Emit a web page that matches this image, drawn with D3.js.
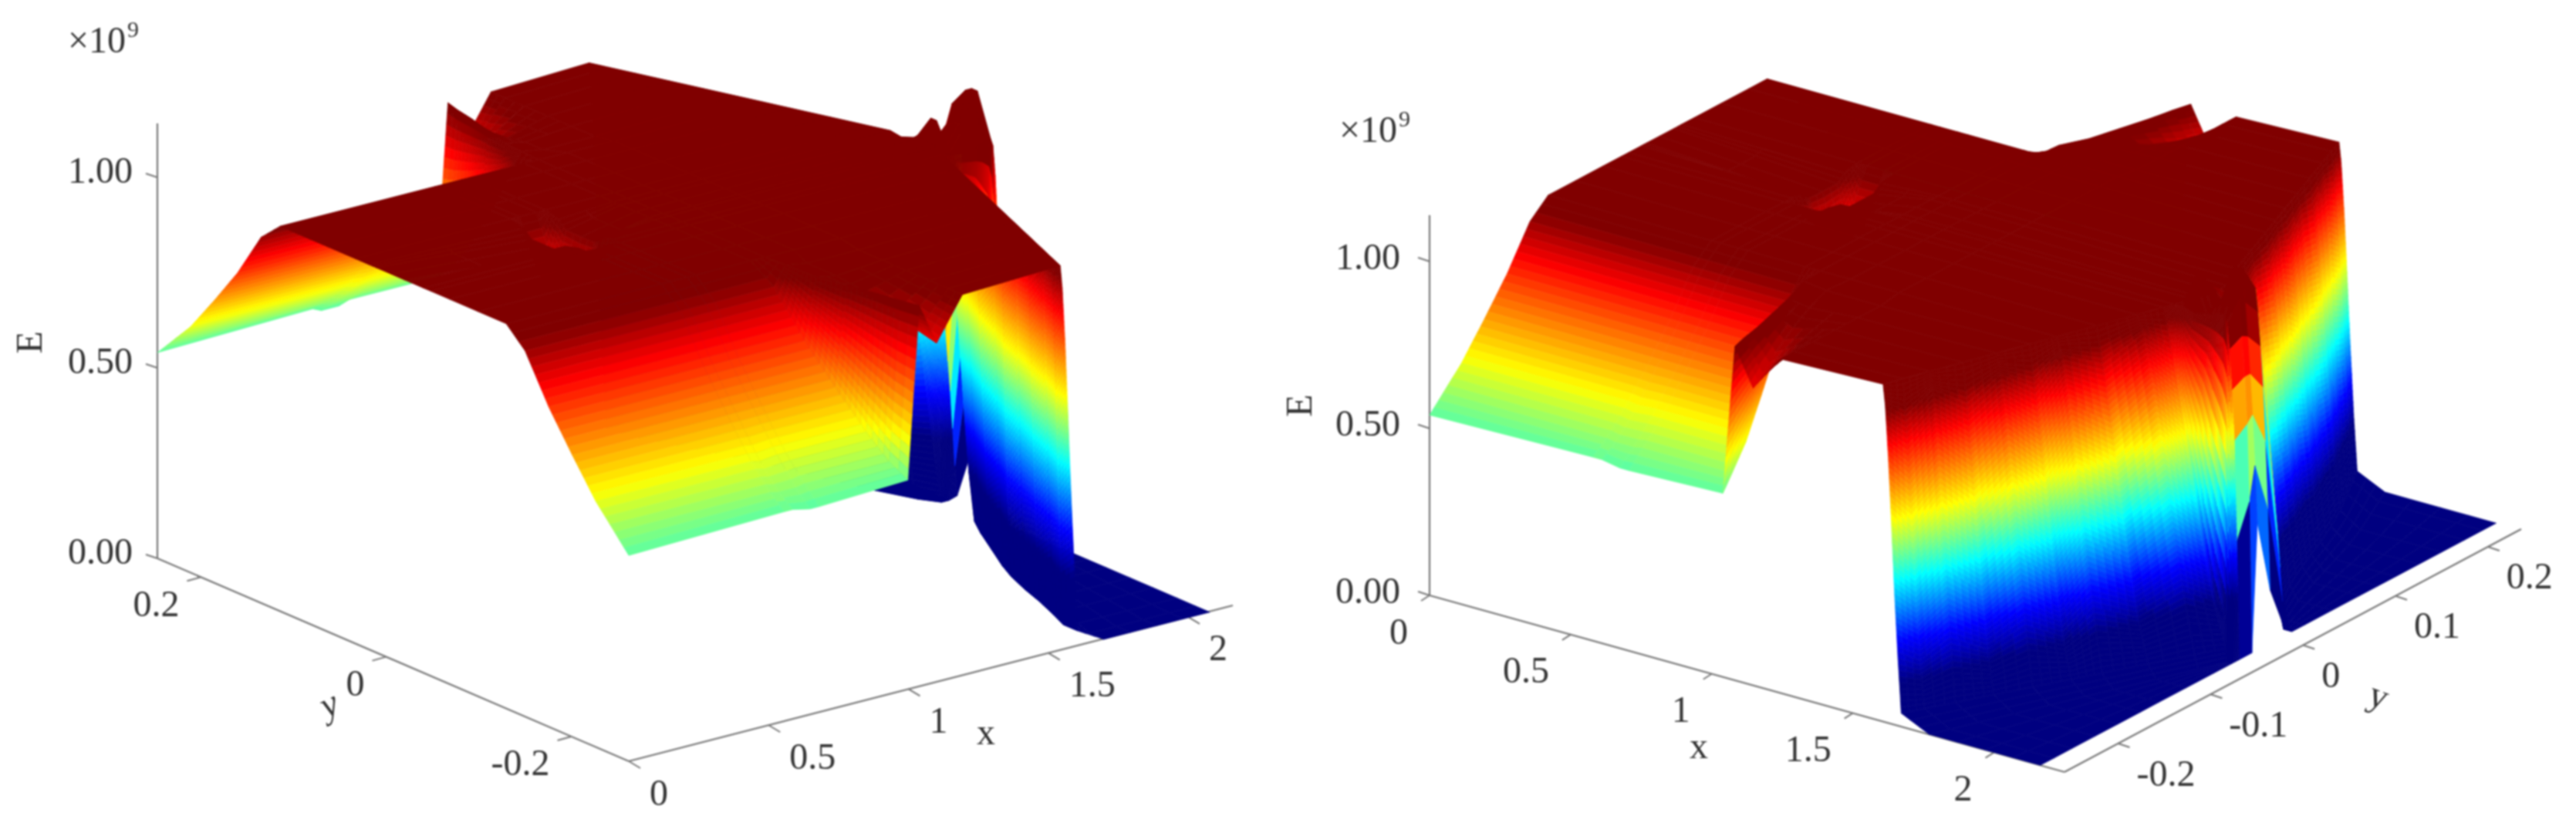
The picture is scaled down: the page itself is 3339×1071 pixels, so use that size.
<!DOCTYPE html>
<html>
<head>
<meta charset="UTF-8">
<title>E surface</title>
<script src="https://d3js.org/d3.v7.min.js"></script>
<style>
  html, body { margin: 0; background: #fff; }
  svg { display: block; filter: blur(.8px); }
  text { font-family: "Liberation Serif", serif; fill: #333; }
</style>
</head>
<body>
<svg width="3339" height="1071"></svg>
<script>
// y rows of the surface mesh
const yRows = [-.25,-.235,-.215,-.19,-.165,-.14,-.12,-.09,-.06,-.04,-.032,-.018,-.012,.002,.018,.026,.04,.07,.1,.12,.14,.165,.19,.215,.235,.25];

// x nodes, first block (x=0 side, includes the small dent on the plateau)
const xFront = [0,.54,.57,.63,.66];
const eFront = [
  [.54,.55,.55,.54,.54],[.585,.585,.58,.58,.585],[.645,.645,.64,.645,.645],[.74,.74,.74,.74,.74],
  [.84,.84,.84,.84,.84],[.96,.96,.96,.96,.96],[1.01,1.01,1.01,1.01,1.01],[1.01,1.01,1.01,1.01,1.01],
  [1.01,1.01,1.01,1.01,1.01],[1.01,1.01,1.01,1.01,1.01],[1.01,1.01,.97,.97,1.01],[1.01,1,.92,.92,1],
  [1.01,.98,.88,.88,.98],[1.01,.98,.86,.86,.98],[1.01,.98,.88,.88,.98],[1.01,1,.92,.92,1],
  [1.01,1.01,1.01,1.01,1.01],[1.01,1.01,1.01,1.01,1.01],[1.01,1.01,1.01,1.01,1.01],[1.01,1.01,1.01,1.01,1.01],
  [.96,.96,.96,.96,.96],[.84,.84,.84,.84,.84],[.74,.74,.74,.74,.74],[.645,.645,.64,.645,.645],
  [.585,.585,.58,.58,.585],[.54,.55,.54,.54,.55]
];

// x nodes around the step near x=1
const xNotch = [
  [.97,1.01,1.07,1.16],[.955,.995,1.055,1.16],[.94,.98,1.04,1.16],[.915,.955,1.02,1.16],
  [.89,.93,1,1.16],[.865,.905,.98,1.16],[.85,.9,1,1.16],[.85,.9,1,1.16],
  [.85,.9,1,1.16],[.85,.9,1,1.16],[.85,.9,1,1.16],[.85,.9,1,1.16],
  [.85,.9,1,1.16],[.85,.9,1,1.16],[.85,.9,1,1.16],[.85,.9,1,1.16],
  [.85,.9,1,1.16],[.85,.9,1,1.16],[.85,.9,1,1.16],[.85,.9,1,1.16],
  [.865,.905,.98,1.16],[.89,.93,1,1.16],[.915,.955,1.02,1.16],[.94,.98,1.04,1.16],
  [.955,.995,1.055,1.16],[.97,1.01,1.07,1.16]
];
const eNotch = [
  [.55,1,.89,1],[.585,1,.91,1],[.645,1,.94,1],[.74,1,.97,1],
  [.84,1,.99,1],[.96,1.01,1,1],[1.01,1.01,1.01,1.01],[1.01,1.01,1.01,1.01],
  [1.01,1.01,1.01,1.01],[1.01,1.01,1.01,1.01],[1.01,1.01,1.01,1.01],[1.01,1.01,1.01,1.01],
  [1.01,1.01,1.01,1.01],[1.01,1.01,1.01,1.01],[1.01,1.01,1.01,1.01],[1.01,1.01,1.01,1.01],
  [1.01,1.01,1.01,1.01],[1.01,1.01,1.01,1.01],[1.01,1.01,1.01,1.01],[1.01,1.01,1.01,1.01],
  [.96,1.01,1,1],[.84,1,.99,1],[.74,1,.97,1],[.645,1,.94,1],
  [.585,1,.91,1],[.55,1,.89,1]
];

// x nodes down the wall on the far x side, last value is the end of the mesh
// rows 10-14 are the narrow ridge and carry 12 nodes
const tipNodes = [1.83,1.87,1.93,1.95,1.972,1.98,1.988,1.996,2.004,2.012,2.02];
const xWallRight = [
  [1.5,1.507,1.517,1.527,1.537,1.548,1.56,2.02],
  [1.521,1.529,1.541,1.553,1.564,1.577,1.591,2.02],
  [1.549,1.559,1.573,1.587,1.601,1.616,1.633,2.02],
  [1.584,1.596,1.612,1.629,1.647,1.665,1.685,2.02],
  [1.619,1.633,1.652,1.673,1.693,1.714,1.738,2.02],
  [1.654,1.67,1.692,1.715,1.738,1.763,1.79,2.02],
  [1.682,1.7,1.724,1.75,1.775,1.802,1.832,2.02],
  [1.724,1.744,1.772,1.801,1.829,1.86,1.894,2.02],
  [1.766,1.789,1.819,1.852,1.884,1.919,1.957,2.02],
  [1.794,1.819,1.851,1.886,1.921,1.958,1.999,2.02],
  [1.805].concat(tipNodes),
  [1.825].concat(tipNodes),
  [1.833].concat(tipNodes),
  [1.847].concat(tipNodes),
  [1.825].concat(tipNodes),
  [1.814,1.835,1.865,1.895,1.925,1.955,1.985,2.02],
  [1.794,1.812,1.835,1.86,1.885,1.911,1.94,2.02],
  [1.752,1.767,1.788,1.81,1.831,1.854,1.88,2.02],
  [1.71,1.724,1.744,1.764,1.784,1.806,1.83,2.02],
  [1.682,1.696,1.715,1.735,1.755,1.776,1.8,2.02],
  [1.654,1.668,1.686,1.706,1.726,1.747,1.77,2.02],
  [1.619,1.632,1.65,1.669,1.688,1.708,1.73,2.02],
  [1.584,1.596,1.612,1.629,1.647,1.665,1.685,2.02],
  [1.549,1.559,1.573,1.587,1.601,1.616,1.633,2.02],
  [1.521,1.529,1.541,1.553,1.564,1.577,1.591,2.02],
  [1.5,1.507,1.517,1.527,1.537,1.548,1.56,2.02]
];
// the left plot has the foot of the wall further in on its near side
const xWallLeft = [
  [1.5,1.507,1.517,1.527,1.537,1.548,1.56,2.02],
  [1.521,1.526,1.532,1.539,1.545,1.552,1.56,2.02],
  [1.549,1.554,1.56,1.567,1.574,1.582,1.59,2.02],
  [1.584,1.589,1.595,1.602,1.609,1.617,1.625,2.02],
  [1.619,1.624,1.629,1.635,1.641,1.648,1.655,2.02],
  [1.654,1.658,1.664,1.67,1.676,1.683,1.69,2.02],
  [1.682,1.687,1.694,1.701,1.709,1.716,1.725,2.02],
  [1.724,1.731,1.741,1.751,1.762,1.773,1.785,2.02],
  [1.766,1.775,1.788,1.802,1.815,1.829,1.845,2.02],
  [1.794,1.806,1.821,1.837,1.854,1.871,1.89,2.02]
].concat(xWallRight.slice(10));

const eWall = [
  [1.01,.95,.8,.61,.41,.22,.04,0],
  [1.01,.9,.73,.54,.35,.18,.04,0],
  [1.01,.96,.82,.63,.43,.23,.04,0],
  [1.01,.89,.72,.53,.34,.17,.04,0],
  [1.01,.95,.81,.62,.42,.22,.04,0],
  [1.01,.88,.71,.52,.33,.16,.04,0],
  [1.01,.96,.82,.63,.43,.23,.04,0],
  [1.01,.9,.73,.53,.34,.17,.04,0],
  [1.01,.96,.82,.62,.42,.22,.04,0],
  [1.01,.89,.72,.53,.34,.17,.04,0],
  [1.01,1.01,1,1.01,1.02,1.02,1,.92,.8,.65,.35,0],
  [1.01,1.08,.98,1.05,1.13,1.13,1.05,.94,.82,.68,.45,0],
  [1.01,1.08,.98,1.05,1.13,1.13,1.03,.93,.82,.7,.55,.38],
  [1.01,1.02,.98,1.03,1.08,1.05,.98,.88,.76,.6,.4,.16],
  [1,.98,.9,.75,.62,.52,.46,.38,.3,.2,.1,.02],
  [1.01,.94,.78,.6,.4,.2,.03,0],
  [1.01,.92,.77,.58,.39,.2,.04,0],
  [1.01,.95,.8,.61,.41,.21,.04,0],
  [1.01,.92,.76,.57,.38,.19,.04,0],
  [1.01,.95,.81,.61,.41,.21,.04,0],
  [1.01,.92,.76,.56,.38,.19,.04,0],
  [1.01,.95,.8,.61,.41,.21,.04,0],
  [1.01,.92,.77,.57,.38,.19,.04,0],
  [1.01,.95,.81,.61,.41,.21,.04,0],
  [1.01,.92,.76,.57,.38,.19,.04,0],
  [1.01,.95,.8,.61,.41,.21,.04,0]
];
// colour offset on the wall per row, right plot (bands sit lower near y=-0.25)
const wallShadeRight = [.05,.05,.05,.04,.04,.03,.03,.02,.01,.01,0,0,0,0,0,0,0,0,0,0,0,0,0,0,0,0];
const wallShadeLeft = yRows.map(() => 0);

// tick labels
const xTicks = [0,.5,1,1.5,2];
const xTickLabels = ["0","0.5","1","1.5","2"];
const yTicksLeft = [-.2,0,.2];
const yTicksLeftLabels = ["-0.2","0","0.2"];
const yTicksRight = [-.2,-.1,0,.1,.2];
const yTicksRightLabels = ["-0.2","-0.1","0","0.1","0.2"];
const zTicks = [0,.5,1];
const zTickLabels = ["0.00","0.50","1.00"];

// ridge rows are drawn with flat cells, from this column on
const ridgeRows = [10,11,12,13];
const wallStart = xFront.length + 4;

// short rows get extra floor nodes so every row has the same length
function padX(r) {
  if (r.length === 12) return r;
  const foot = r[6], end = r[7];
  return r.slice(0,7).concat([.2,.4,.6,.8].map(k => foot+(end-foot)*k), end);
}
function padE(r) {
  return r.length === 12 ? r : r.slice(0,7).concat([0,0,0,0], r[7]);
}

const jet = d3.scaleLinear()
  .domain([.18,.3,.48,.66,.88,.98])
  .range(["#000080","#0000ff","#00ffff","#ffff00","#ff0000","#800000"])
  .clamp(true);

const svg = d3.select("svg");
const fontSize = 48;

function label(g, x, y, txt, anchor, rot, italic) {
  g.append("text")
    .attr("transform", "translate(" + x + "," + y + ") rotate(" + (rot || 0) + ")")
    .attr("text-anchor", anchor)
    .attr("dominant-baseline", "central")
    .attr("font-size", fontSize)
    .attr("font-style", italic ? "italic" : "normal")
    .text(txt);
}

function buildPolys(v) {
  const meshX = yRows.map((d, j) => xFront.concat(xNotch[j], padX(v.xWall[j])));
  const meshE = yRows.map((d, j) => eFront[j].concat(eNotch[j], padE(eWall[j])));
  const alongX = d3.scaleLinear().domain([0,2.1]).range([[0,0], v.xVec]);
  const alongY = d3.scaleLinear().domain(v.yMesh).range(v.yLine);
  const alongZ = d3.scaleLinear().domain([0,1]).range([0,-v.zHeight]);
  const project = (x, y, e) => {
    const a = alongX(x), b = alongY(y);
    return [a[0]+b[0], a[1]+b[1]+alongZ(e)];
  };
  const polys = [];
  const nI = meshX[0].length - 1;
  const iOrder = v.farHighX ? d3.range(nI).reverse() : d3.range(nI);
  const jOrder = d3.range(yRows.length-1).reverse();
  jOrder.forEach(j => {
    iOrder.forEach(i => {
      const e00 = meshE[j][i], e10 = meshE[j][i+1], e01 = meshE[j+1][i], e11 = meshE[j+1][i+1];
      const flat = ridgeRows.includes(j) && i >= wallStart;
      const nu = flat ? 1 : Math.min(16, Math.max(1, Math.ceil(Math.max(Math.abs(e10-e00), Math.abs(e11-e01))/.018)));
      const nv = flat ? 1 : Math.min(12, Math.max(1, Math.ceil(Math.max(Math.abs(e01-e00), Math.abs(e11-e10))/.018)));
      const lift = i >= wallStart ? (v.shade[j]+v.shade[j+1])/2 : 0;
      const at = (u, w) => {
        const xa = meshX[j][i]+(meshX[j][i+1]-meshX[j][i])*u;
        const xb = meshX[j+1][i]+(meshX[j+1][i+1]-meshX[j+1][i])*u;
        const ea = e00+(e10-e00)*u, eb = e01+(e11-e01)*u;
        return {x: xa+(xb-xa)*w, y: yRows[j]+(yRows[j+1]-yRows[j])*w, e: ea+(eb-ea)*w};
      };
      const us = v.farHighX ? d3.range(nu).reverse() : d3.range(nu);
      d3.range(nv).reverse().forEach(b => {
        us.forEach(a => {
          const c = [at(a/nu,b/nv), at((a+1)/nu,b/nv), at((a+1)/nu,(b+1)/nv), at(a/nu,(b+1)/nv)];
          const m = d3.mean(c, p => p.e);
          polys.push({
            d: "M" + c.map(p => project(p.x,p.y,p.e).map(n => n.toFixed(1)).join(",")).join("L") + "Z",
            e: m > .02 ? m + lift : m
          });
        });
      });
    });
  });
  return polys;
}

function drawPanel(v) {
  const g = svg.append("g");

  // axis lines
  const lines = [[v.zBase, v.zTop], v.yAxis, v.xAxis];
  g.selectAll("line.axis").data(lines).join("line")
    .attr("class", "axis")
    .attr("x1", d => d[0][0]).attr("y1", d => d[0][1])
    .attr("x2", d => d[1][0]).attr("y2", d => d[1][1])
    .attr("stroke", "#777").attr("stroke-width", 2.2);

  // ticks
  const zScale = d3.scaleLinear().domain([0,1]).range([v.zBase[1], v.zBase[1]-v.zHeight]);
  const xTickScale = d3.scaleLinear().domain(v.xAxisDomain).range(v.xAxis);
  const yTickScale = d3.scaleLinear().domain(v.yAxisDomain).range(v.yAxis);

  g.selectAll("line.zt").data(zTicks).join("line").attr("class", "zt")
    .attr("x1", v.zBase[0]).attr("y1", d => zScale(d))
    .attr("x2", v.zBase[0]-15).attr("y2", d => zScale(d)-5)
    .attr("stroke", "#777").attr("stroke-width", 2);
  g.selectAll("line.xt").data(xTicks).join("line").attr("class", "xt")
    .attr("x1", d => xTickScale(d)[0]).attr("y1", d => xTickScale(d)[1])
    .attr("x2", d => xTickScale(d)[0]+v.xTickVec[0]).attr("y2", d => xTickScale(d)[1]+v.xTickVec[1])
    .attr("stroke", "#777").attr("stroke-width", 2);
  g.selectAll("line.yt").data(v.yTicks).join("line").attr("class", "yt")
    .attr("x1", d => yTickScale(d)[0]).attr("y1", d => yTickScale(d)[1])
    .attr("x2", d => yTickScale(d)[0]+v.yTickVec[0]).attr("y2", d => yTickScale(d)[1]+v.yTickVec[1])
    .attr("stroke", "#777").attr("stroke-width", 2);

  // surface
  g.append("g").selectAll("path").data(buildPolys(v)).join("path")
    .attr("d", d => d.d)
    .attr("fill", d => jet(d.e))
    .attr("stroke", d => jet(d.e))
    .attr("stroke-width", .7)
    .attr("stroke-linejoin", "round");

  // labels
  zTicks.forEach((d, i) => label(g, v.zLabelX, zScale(d)-v.zLabelUp, zTickLabels[i], "end"));
  xTicks.forEach((d, i) => {
    const p = xTickScale(d);
    label(g, p[0]+v.xLabelOff[0], p[1]+v.xLabelOff[1], xTickLabels[i], v.xAnchor);
  });
  v.yTicks.forEach((d, i) => {
    const p = yTickScale(d);
    label(g, p[0]+v.yLabelOff[0], p[1]+v.yLabelOff[1], v.yLabels[i], v.yAnchor);
  });
  label(g, v.ePos[0], v.ePos[1], "E", "middle", -90);
  label(g, v.xPos[0], v.xPos[1], "x", "middle");
  label(g, v.yPos[0], v.yPos[1], "y", "middle", v.yRot, v.yItalic);

  // exponent
  g.append("text")
    .attr("transform", "translate(" + v.expPos[0] + "," + v.expPos[1] + ")")
    .attr("font-size", 48)
    .text("×10");
  g.append("text")
    .attr("transform", "translate(" + (v.expPos[0]+77) + "," + (v.expPos[1]-20) + ")")
    .attr("font-size", 30)
    .text("9");
}

const leftView = {
  xWall: xWallLeft, shade: wallShadeLeft,
  zBase: [204,724], zTop: [204,160], zHeight: 494,
  yAxis: [[204,724],[815,987]], xAxis: [[815,987],[1598,785]],
  xAxisDomain: [0,2.16], yAxisDomain: [.247,-.262],
  xVec: [783,-201], yMesh: [.25,-.25], yLine: [[204,724],[815,987]],
  farHighX: true,
  xTickVec: [15,9], yTickVec: [-18,5],
  yTicks: yTicksLeft, yLabels: yTicksLeftLabels,
  zLabelX: 172, zLabelUp: 10,
  xLabelOff: [27,40], xAnchor: "start",
  yLabelOff: [-28,34], yAnchor: "end",
  ePos: [37,444], xPos: [1278,948], yPos: [426,912], yRot: -25, yItalic: true,
  expPos: [88,68]
};
const rightView = {
  xWall: xWallRight, shade: wallShadeRight,
  zBase: [1853,772], zTop: [1853,279], zHeight: 433,
  yAxis: [[2676,1001],[3268,686]], xAxis: [[1853,772],[2676,1001]],
  xAxisDomain: [0,2.25], yAxisDomain: [-.258,.236],
  xVec: [823,229], yMesh: [-.25,.25], yLine: [[1853,772],[2444,458]],
  farHighX: false,
  xTickVec: [-11,7], yTickVec: [15,5],
  yTicks: yTicksRight, yLabels: yTicksRightLabels,
  zLabelX: 1815, zLabelUp: 7,
  xLabelOff: [-28,46], xAnchor: "end",
  yLabelOff: [24,38], yAnchor: "start",
  ePos: [1683,526], xPos: [2202,966], yPos: [3084,901], yRot: 20, yItalic: false,
  expPos: [1736,184]
};

drawPanel(leftView);
drawPanel(rightView);
</script>
</body>
</html>
